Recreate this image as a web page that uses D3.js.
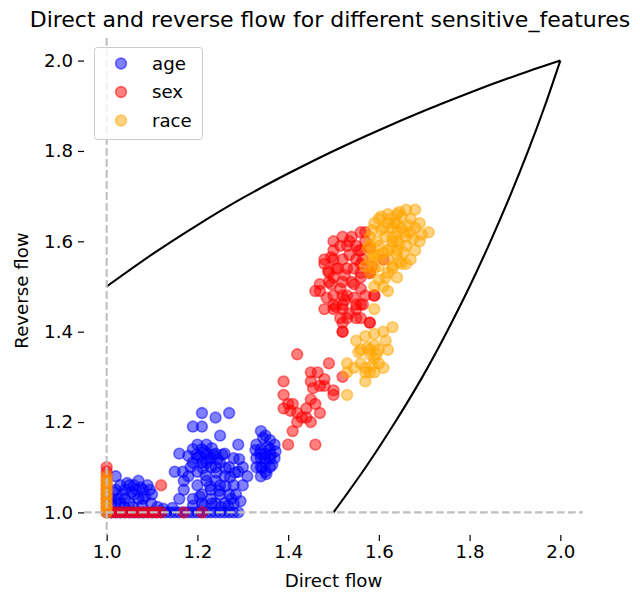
<!DOCTYPE html>
<html>
<head>
<meta charset="utf-8">
<script src="https://cdn.jsdelivr.net/npm/d3@7"></script>
<style>
  html, body { margin: 0; padding: 0; background: #fff; }
  svg { display: block; font-family: "DejaVu Sans", sans-serif; }
</style>
</head>
<body>
<svg id="chart" width="640" height="593"></svg>
<script>
// Direct / reverse flow per sensitive feature
const seriesNames = ["age", "sex", "race"];
const seriesColors = ["blue", "red", "orange"];

const ageDirect = [
  1.00,1.01,1.02,1.03,1.04,1.05,1.06,1.07,1.08,1.09,1.10,1.11,1.12,1.13,1.14,1.15,1.16,1.17,1.18,1.19,
  1.20,1.21,1.22,1.23,1.24,1.25,1.26,1.27,1.28,1.29,
  1.01,1.02,1.02,1.03,1.04,1.04,1.05,1.06,1.06,1.07,1.07,1.08,1.09,1.08,1.10,1.05,1.03,1.02,1.01,
  1.16,1.17,1.15,1.16,1.19,1.18,1.17,
  1.21,1.24,1.27,1.21,1.25,1.19,1.20,1.21,1.22,1.23,1.24,1.22,1.20,1.21,1.23,1.25,1.19,1.22,1.24,1.26,
  1.29,1.28,1.27,1.26,1.29,1.30,1.28,1.27,1.25,1.23,1.21,1.22,1.20,1.21,1.23,1.24,1.26,1.28,1.25,1.19,
  1.20,1.24,1.30,1.31,
  1.34,1.35,1.36,1.33,1.34,1.35,1.36,1.37,1.34,1.35,1.36,1.33,1.34,1.35,1.36,1.34,1.37,1.33,
  1.205,1.215,1.225,1.235,1.245,1.212,1.232,1.198,1.255,1.262,1.272,1.283,1.292,1.242,1.218,1.228,
  1.248,1.262,1.275,1.285,1.205,1.215,1.232,1.252,1.268,1.190,1.295,1.180,1.185,1.168,
  1.345,1.355,1.338,1.362,1.348,1.342,1.365,1.352,1.328,1.372,
  1.015,1.035,1.045,1.055,1.065,1.075,1.085,1.095,1.025,1.038,1.058,1.078,1.098,1.112,1.125,1.145
];
const ageReverse = [
  1.00,1.00,1.00,1.00,1.00,1.00,1.00,1.00,1.00,1.00,1.00,1.00,1.00,1.00,1.00,1.00,1.00,1.00,1.00,1.00,
  1.00,1.00,1.00,1.00,1.00,1.00,1.00,1.00,1.00,1.00,
  1.03,1.05,1.08,1.02,1.05,1.03,1.02,1.06,1.04,1.07,1.03,1.05,1.06,1.03,1.04,1.06,1.06,1.02,1.02,
  1.03,1.05,1.09,1.13,1.19,1.08,1.07,
  1.22,1.21,1.22,1.19,1.17,1.14,1.15,1.14,1.13,1.12,1.13,1.15,1.12,1.11,1.10,1.11,1.11,1.11,1.10,1.13,
  1.15,1.12,1.10,1.08,1.09,1.10,1.06,1.04,1.06,1.05,1.04,1.07,1.06,1.02,1.03,1.02,1.02,1.02,1.04,1.03,
  1.09,1.07,1.06,1.08,
  1.18,1.17,1.16,1.15,1.14,1.13,1.14,1.12,1.12,1.11,1.10,1.12,1.10,1.09,1.12,1.08,1.15,1.10,
  1.125,1.135,1.118,1.128,1.118,1.098,1.142,1.128,1.128,1.098,1.078,1.088,1.118,1.088,1.082,1.058,
  1.048,1.058,1.030,1.040,1.035,1.015,1.020,1.012,1.015,1.015,1.025,1.125,1.100,1.090,
  1.165,1.145,1.130,1.128,1.120,1.098,1.105,1.085,1.138,1.135,
  1.045,1.040,1.065,1.045,1.050,1.055,1.035,1.050,1.030,1.012,1.012,1.015,1.020,1.012,1.008,1.010
];

const sexDirect = [
  1.00,1.01,1.02,1.03,1.04,1.05,1.06,1.07,1.08,1.09,1.10,1.11,1.12,1.17,1.21,
  1.00,1.00,1.00,1.00,1.00,1.00,1.00,1.00,1.00,1.00,
  1.12,
  1.42,1.52,1.49,1.45,1.45,1.39,1.48,1.50,1.52,1.47,1.50,1.39,1.40,1.41,1.39,1.45,1.44,1.42,1.47,1.44,
  1.42,1.45,1.41,1.40,1.46,1.52,1.55,1.58,
  1.57,1.50,1.52,1.54,1.50,1.53,1.55,1.56,1.48,1.50,1.52,1.55,1.56,1.48,1.49,1.51,1.53,1.56,1.58,1.50,
  1.52,1.54,1.56,1.49,1.46,1.47,1.50,1.52,1.53,1.56,1.57,1.59,1.50,1.52,1.55,1.48,1.50,1.52,1.55,1.53,
  1.56,1.58,1.52,
  1.56,1.61,1.58,1.59,
  1.535,1.545,1.525,1.505,1.495,1.515,1.535,1.555,1.565,1.545,1.515,1.495,1.525,1.545,1.505,1.485,
  1.560,1.570,1.580,1.585,1.565,1.535,1.515,1.488,1.470,
  1.455,1.430,1.460,1.405,1.480,1.465
];
const sexReverse = [
  1.00,1.00,1.00,1.00,1.00,1.00,1.00,1.00,1.00,1.00,1.00,1.00,1.00,1.00,1.00,
  1.01,1.02,1.03,1.04,1.05,1.06,1.07,1.08,1.09,1.10,
  1.06,
  1.35,1.40,1.33,1.31,1.29,1.29,1.28,1.27,1.30,1.28,1.26,1.26,1.24,1.24,1.23,1.25,1.23,1.22,1.22,1.21,
  1.20,1.20,1.18,1.15,1.15,1.42,1.43,1.42,
  1.62,1.60,1.61,1.61,1.58,1.59,1.59,1.58,1.56,1.56,1.56,1.56,1.55,1.55,1.53,1.54,1.54,1.53,1.53,1.52,
  1.51,1.51,1.52,1.51,1.49,1.49,1.48,1.48,1.48,1.46,1.48,1.48,1.46,1.46,1.46,1.45,1.45,1.45,1.45,1.43,
  1.43,1.42,1.40,
  1.62,1.56,1.53,1.48,
  1.570,1.540,1.525,1.540,1.565,1.590,1.600,1.580,1.560,1.505,1.495,1.505,1.470,1.475,1.455,1.475,
  1.495,1.600,1.585,1.545,1.460,1.440,1.430,1.535,1.505,
  1.275,1.210,1.240,1.225,1.295,1.310
];

const raceDirect = [
  1.00,1.00,1.00,1.00,1.00,1.00,1.00,1.00,1.00,
  1.66,1.62,1.68,1.59,1.64,1.67,1.69,1.71,1.61,1.63,1.65,1.67,1.58,1.69,1.58,1.60,1.63,1.64,1.66,1.68,
  1.67,1.65,1.63,1.58,1.59,1.62,1.64,1.58,1.61,1.62,1.59,1.66,1.62,1.64,1.60,1.62,1.64,1.64,1.60,1.59,
  1.59,
  1.63,1.61,1.57,1.55,1.59,1.56,1.60,1.62,1.58,1.59,1.56,1.53,1.53,1.57,1.59,1.61,1.57,1.53,1.58,1.58,
  1.630,1.645,1.655,1.625,1.615,1.605,1.635,1.650,1.665,1.675,1.660,1.640,1.620,1.600,1.610,1.595,
  1.585,1.625,1.680,1.655,1.645,1.630,1.615,1.600,1.590,1.575,1.605,1.645,1.695,1.570,
  1.575,1.595,1.585,1.570,1.600,1.555,1.615,1.545,1.590
];
const raceReverse = [
  1.00,1.01,1.02,1.03,1.04,1.05,1.06,1.07,1.08,
  1.67,1.66,1.67,1.64,1.66,1.65,1.64,1.62,1.63,1.63,1.63,1.62,1.61,1.60,1.59,1.59,1.60,1.60,1.61,1.58,
  1.56,1.55,1.54,1.56,1.54,1.53,1.52,1.53,1.50,1.49,1.45,1.55,1.58,1.58,1.57,1.64,1.64,1.62,1.65,1.57,
  1.50,
  1.41,1.40,1.39,1.38,1.37,1.36,1.36,1.36,1.35,1.34,1.33,1.33,1.31,1.31,1.31,1.32,1.29,1.26,1.36,1.31,
  1.610,1.595,1.620,1.585,1.610,1.625,1.640,1.655,1.635,1.605,1.590,1.570,1.560,1.545,1.575,1.600,
  1.625,1.650,1.630,1.575,1.555,1.545,1.520,1.515,1.565,1.585,1.655,1.665,1.615,1.545,
  1.365,1.350,1.325,1.320,1.330,1.355,1.380,1.320,1.395
];

// Reference bounds of the feasible region
const boundDirect  = [1.0, 1.1, 1.2, 1.3, 1.4, 1.5, 1.6, 1.7, 1.8, 1.9, 2.0];
const boundReverse = [1.5, 1.571, 1.636, 1.696, 1.75, 1.8, 1.846, 1.889, 1.929, 1.966, 2.0];

const axisTicks = [1.0, 1.2, 1.4, 1.6, 1.8, 2.0];

const series = [
  { name: seriesNames[0], color: seriesColors[0], xs: ageDirect,  ys: ageReverse },
  { name: seriesNames[1], color: seriesColors[1], xs: sexDirect,  ys: sexReverse },
  { name: seriesNames[2], color: seriesColors[2], xs: raceDirect, ys: raceReverse }
];

const svg = d3.select("#chart");
const plot = { left: 84, right: 583, top: 38, bottom: 535 };
const labelSize = "18.2px";

const x = d3.scaleLinear().domain([0.95, 2.05]).range([plot.left, plot.right]);
const y = d3.scaleLinear().domain([0.95, 2.05]).range([plot.bottom, plot.top]);

// Scatter points
const r = 5.4;
const markerStroke = 1.6;
series.forEach(s => {
  svg.append("g")
    .selectAll("circle")
    .data(d3.zip(s.xs, s.ys))
    .join("circle")
    .attr("cx", d => x(d[0]))
    .attr("cy", d => y(d[1]))
    .attr("r", r)
    .attr("fill", s.color)
    .attr("fill-opacity", 0.5)
    .attr("stroke", s.color)
    .attr("stroke-opacity", 0.5)
    .attr("stroke-width", markerStroke);
});

// Bound curves
const boundLine = d3.line().x(d => x(d[0])).y(d => y(d[1])).curve(d3.curveNatural);
svg.append("path")
  .attr("d", boundLine(d3.zip(boundDirect, boundReverse)))
  .attr("fill", "none").attr("stroke", "black").attr("stroke-width", 2.1);
svg.append("path")
  .attr("d", boundLine(d3.zip(boundReverse, boundDirect)))
  .attr("fill", "none").attr("stroke", "black").attr("stroke-width", 2.1);

// Dashed guide lines at 1.0
svg.append("line")
  .attr("x1", x(1)).attr("x2", x(1)).attr("y1", plot.top).attr("y2", plot.bottom)
  .attr("stroke", "#bfbfbf").attr("stroke-width", 2.1).attr("stroke-dasharray", "7.7,3.3");
svg.append("line")
  .attr("x1", plot.left).attr("x2", plot.right).attr("y1", y(1)).attr("y2", y(1))
  .attr("stroke", "#bfbfbf").attr("stroke-width", 2.1).attr("stroke-dasharray", "7.7,3.3");

// Axes (ticks only, no spines)
const fmt = d3.format(".1f");
const gx = svg.append("g")
  .attr("transform", `translate(0,${plot.bottom})`)
  .call(d3.axisBottom(x).tickValues(axisTicks).tickFormat(fmt).tickSize(6).tickPadding(4).tickSizeOuter(0));
const gy = svg.append("g")
  .attr("transform", `translate(${plot.left},0)`)
  .call(d3.axisLeft(y).tickValues(axisTicks).tickFormat(fmt).tickSize(6).tickPadding(5).tickSizeOuter(0));
[gx, gy].forEach(g => {
  g.select(".domain").remove();
  g.selectAll(".tick line").attr("stroke", "#000").attr("stroke-width", 1.2);
  g.selectAll(".tick text").attr("fill", "#000")
    .style("font-family", "'DejaVu Sans', sans-serif").style("font-size", labelSize);
});

// Labels and title
svg.append("text")
  .attr("x", (plot.left + plot.right) / 2).attr("y", 587)
  .attr("text-anchor", "middle").style("font-size", labelSize).attr("fill", "#000")
  .text("Direct flow");
svg.append("text")
  .attr("transform", `translate(28,${(plot.top + plot.bottom) / 2 + 4}) rotate(-90)`)
  .attr("text-anchor", "middle").style("font-size", labelSize).attr("fill", "#000")
  .text("Reverse flow");
svg.append("text")
  .attr("x", 330).attr("y", 27)
  .attr("text-anchor", "middle").style("font-size", "22px").attr("fill", "#000")
  .text("Direct and reverse flow for different sensitive_features");

// Legend
const legend = svg.append("g");
legend.append("rect")
  .attr("x", 94.5).attr("y", 47.5).attr("width", 108).attr("height", 92)
  .attr("rx", 3).attr("ry", 3)
  .attr("fill", "white").attr("fill-opacity", 0.8)
  .attr("stroke", "#cccccc").attr("stroke-width", 1);
series.forEach((s, i) => {
  const cy = 63.5 + i * 28.5;
  legend.append("circle")
    .attr("cx", 121).attr("cy", cy).attr("r", r)
    .attr("fill", s.color).attr("fill-opacity", 0.5)
    .attr("stroke", s.color).attr("stroke-opacity", 0.5).attr("stroke-width", markerStroke);
  legend.append("text")
    .attr("x", 152).attr("y", cy).attr("dy", "0.35em")
    .style("font-size", labelSize).attr("fill", "#000")
    .text(s.name);
});
</script>
</body>
</html>
